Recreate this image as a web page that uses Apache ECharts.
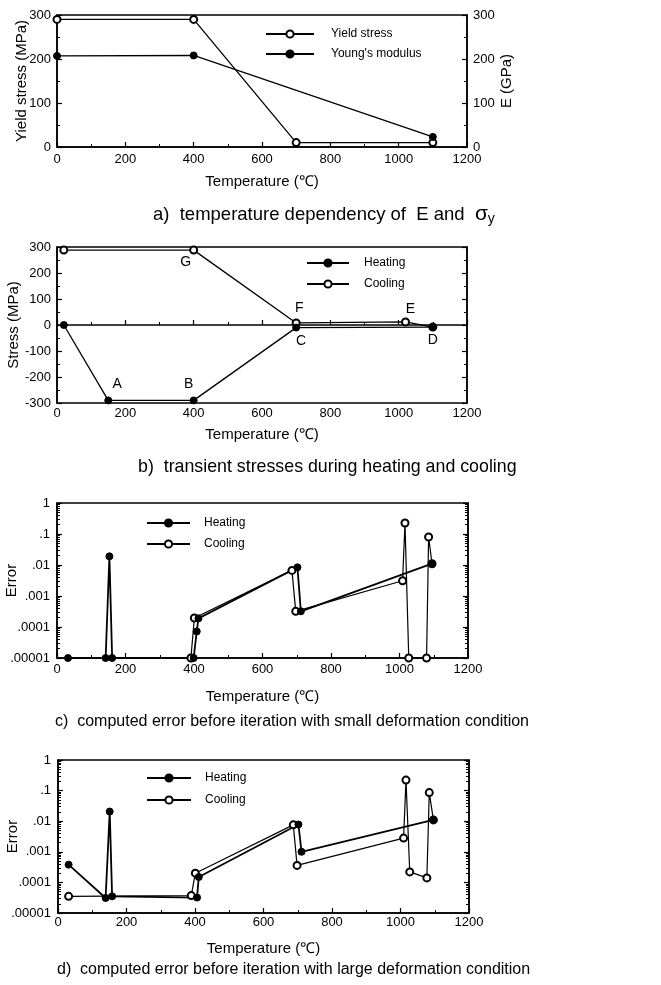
<!DOCTYPE html>
<html lang="en">
  <head>
    <meta charset="UTF-8" />
    <title>Temperature dependency and error</title>
    <style>
      body {
        margin: 0;
        background-color: #fff;
      }
      #chart {
        width: 661px;
        height: 985px;
      }
    </style>
  </head>
  <body>
    <div id="chart"></div>
    <script src="https://cdn.jsdelivr.net/npm/echarts@6/dist/echarts.min.js"></script>
    <script>
      // a) material data
      const yieldTemp = [0, 400, 700, 1100];
      const yieldStress = [290, 290, 10, 10];
      const youngTemp = [0, 400, 1100];
      const youngModulus = [207, 208, 23];

      // b) transient stresses
      const bHeatTemp = [20, 150, 400, 700, 1100];
      const bHeatStress = [0, -290, -290, -10, -8];
      const bHeatTags = ["", "A", "B", "C", "D"];
      const bCoolTemp = [1100, 1020, 700, 400, 20];
      const bCoolStress = [-8, 12, 8, 288, 288];
      const bCoolTags = ["", "E", "F", "G", ""];

      // c) error, small deformation
      const cHeatTemp = [32, 142, 153, 161, 399, 408, 413, 702, 712, 1095];
      const cHeatErr = [1e-5, 1e-5, 0.019, 1e-5, 1e-5, 7.2e-5, 1.9e-4, 0.0084, 3.2e-4, 0.011];
      const cCoolTemp = [1095, 1085, 1079, 1027, 1016, 1009, 697, 686, 401, 391];
      const cCoolErr = [0.011, 0.08, 1e-5, 1e-5, 0.226, 0.0031, 3.2e-4, 0.0067, 1.95e-4, 1e-5];

      // d) error, large deformation
      const dHeatTemp = [31, 139, 151, 158, 406, 411, 702, 711, 1096];
      const dHeatErr = [3.8e-4, 3.1e-5, 0.0207, 3.5e-5, 3.2e-5, 1.5e-4, 0.0078, 0.001, 0.011];
      const dCoolTemp = [1096, 1084, 1077, 1027, 1016, 1009, 698, 687, 401, 389, 31];
      const dCoolErr = [0.011, 0.086, 1.4e-4, 2.2e-4, 0.22, 0.0028, 3.6e-4, 0.0076, 2.0e-4, 3.7e-5, 3.5e-5];

      const font = "Liberation Sans, Arial, sans-serif";
      const black = "#000";

      // label placement for the lettered points of panel b
      const tagPos = {
        A: ["top", [9, 0]],
        B: ["top", [-5, 0]],
        C: ["bottom", [5, -2]],
        D: ["bottom", [0, -3]],
        E: ["top", [5, 4]],
        F: ["top", [3, 2]],
        G: ["bottom", [-8, -4]],
      };

      const zip = (xs, ys) => xs.map((x, i) => [x, ys[i]]);
      const tagged = (xs, ys, tags) =>
        xs.map((x, i) => {
          const item = { value: [x, ys[i]] };
          const t = tags[i];
          if (t) {
            item.label = {
              show: true,
              formatter: t,
              position: tagPos[t][0],
              offset: tagPos[t][1],
              fontSize: 14,
              fontFamily: font,
              color: black,
            };
          }
          return item;
        });

      const logLabel = (v) => {
        const e = -Math.round(Math.log10(v));
        return e <= 0 ? "1" : "." + "0".repeat(e - 1) + "1";
      };

      const grids = [
        { left: 57, top: 15, width: 410, height: 132 },
        { left: 57, top: 247, width: 410, height: 156 },
        { left: 57, top: 503, width: 411, height: 155 },
        { left: 58, top: 760, width: 411, height: 153 },
      ].map((g) => ({
        ...g,
        show: true,
        borderColor: black,
        borderWidth: 1.5,
        containLabel: false,
        outerBoundsMode: "none",
      }));

      const tickStyle = { show: true, inside: true, length: 5, lineStyle: { color: black, width: 1.2 } };
      const minorStyle = { show: true, splitNumber: 2, length: 3, lineStyle: { color: black, width: 1 } };

      const xAxisFor = (gridIndex, margin, nameGap) => ({
        type: "value",
        gridIndex,
        min: 0,
        max: 1200,
        interval: 200,
        name: "Temperature (℃)",
        nameLocation: "middle",
        nameGap,
        nameMoveOverlap: false,
        nameTextStyle: { fontSize: 15, fontFamily: font, color: black },
        axisLine: { show: true, lineStyle: { color: black, width: 1.5 } },
        axisTick: tickStyle,
        minorTick: minorStyle,
        splitLine: { show: false },
        axisLabel: { margin, fontSize: 13, fontFamily: font, color: black, formatter: (v) => String(v) },
      });

      const yValueAxis = (gridIndex, min, max, name, nameGap, position, showLabel) => ({
        type: "value",
        gridIndex,
        min,
        max,
        interval: 100,
        position,
        name,
        nameLocation: "middle",
        nameGap,
        nameRotate: 90,
        nameMoveOverlap: false,
        nameTextStyle: { fontSize: 15, fontFamily: font, color: black },
        axisLine: { show: true, lineStyle: { color: black, width: 1.5 } },
        axisTick: tickStyle,
        minorTick: minorStyle,
        splitLine: { show: false },
        axisLabel: { show: showLabel, margin: 6, fontSize: 13, fontFamily: font, color: black },
      });

      const yLogAxis = (gridIndex, name, nameGap, position, showLabel) => ({
        type: "log",
        logBase: 10,
        gridIndex,
        min: 1e-5,
        max: 1,
        splitNumber: 5,
        position,
        name,
        nameLocation: "middle",
        nameGap,
        nameRotate: 90,
        nameMoveOverlap: false,
        nameTextStyle: { fontSize: 15, fontFamily: font, color: black },
        axisLine: { show: true, lineStyle: { color: black, width: 1.5 } },
        axisTick: tickStyle,
        minorTick: { show: true, splitNumber: 9, length: 3, lineStyle: { color: black, width: 1 } },
        splitLine: { show: false },
        axisLabel: { show: showLabel, margin: 7, fontSize: 13, fontFamily: font, color: black, formatter: logLabel },
      });

      const lineSeries = (name, data, xAxisIndex, yAxisIndex, filled, width) => ({
        type: "line",
        name,
        data,
        xAxisIndex,
        yAxisIndex,
        clip: false,
        symbol: filled ? "circle" : "emptyCircle",
        symbolSize: 7,
        showAllSymbol: true,
        itemStyle: { color: black, borderColor: black, borderWidth: 1 },
        lineStyle: { color: black, width },
        emphasis: { disabled: true },
        animation: false,
      });

      const legendAt = (names, left, top, width, pad, gap) => ({
        data: names,
        orient: "vertical",
        left,
        top,
        padding: 0,
        itemWidth: width,
        itemHeight: 9,
        itemGap: gap,
        selectedMode: false,
        textStyle: { fontSize: 12, fontFamily: font, color: black, padding: [0, 0, 0, pad] },
      });

      const captionStyle = (size) => ({
        fontSize: size,
        fontWeight: "normal",
        fontFamily: font,
        color: black,
        rich: {
          s: { fontSize: 21, fontFamily: font, color: black },
          sub: { fontSize: 14, fontFamily: font, color: black, padding: [9, 0, 0, 0] },
        },
      });

      const option = {
        backgroundColor: "#fff",
        animation: false,
        title: [
          { text: "a)  temperature dependency of  E and  {s|σ}{sub|y}", left: 153, top: 203, padding: 0, textStyle: captionStyle(18.5) },
          { text: "b)  transient stresses during heating and cooling", left: 138, top: 458, padding: 0, textStyle: captionStyle(17.8) },
          { text: "c)  computed error before iteration with small deformation condition", left: 55, top: 714, padding: 0, textStyle: captionStyle(16) },
          { text: "d)  computed error before iteration with large deformation condition", left: 57, top: 962, padding: 0, textStyle: captionStyle(16) },
        ],
        legend: [
          legendAt(["Yield stress", "Young's modulus"], 265, 28, 48, 12, 8),
          legendAt(["Heating", "Cooling"], 306, 257, 42, 10, 9),
          legendAt(["Heating", "Cooling"], 146, 517, 43, 9, 9),
          legendAt(["Heating", "Cooling"], 146, 772, 44, 9, 10),
        ],
        grid: grids,
        xAxis: [xAxisFor(0, 6, 27), xAxisFor(1, 4, 24), xAxisFor(2, 5, 31), xAxisFor(3, 3, 28)],
        yAxis: [
          yValueAxis(0, 0, 300, "Yield stress (MPa)", 28, "left", true),
          yValueAxis(0, 0, 300, "E (GPa)", 32, "right", true),
          yValueAxis(1, -300, 300, "Stress (MPa)", 36, "left", true),
          yValueAxis(1, -300, 300, "", 0, "right", false),
          yLogAxis(2, "Error", 38, "left", true),
          yLogAxis(2, "", 0, "right", false),
          yLogAxis(3, "Error", 38, "left", true),
          yLogAxis(3, "", 0, "right", false),
        ],
        series: [
          lineSeries("Yield stress", zip(yieldTemp, yieldStress), 0, 0, false, 1.3),
          lineSeries("Young's modulus", zip(youngTemp, youngModulus), 0, 1, true, 1.3),
          lineSeries("Cooling", tagged(bCoolTemp, bCoolStress, bCoolTags), 1, 2, false, 1.3),
          lineSeries("Heating", tagged(bHeatTemp, bHeatStress, bHeatTags), 1, 2, true, 1.3),
          lineSeries("Cooling", zip(cCoolTemp, cCoolErr), 2, 4, false, 1.2),
          lineSeries("Heating", zip(cHeatTemp, cHeatErr), 2, 4, true, 1.8),
          lineSeries("Cooling", zip(dCoolTemp, dCoolErr), 3, 6, false, 1.2),
          lineSeries("Heating", zip(dHeatTemp, dHeatErr), 3, 6, true, 1.8),
        ],
      };

      const chart = echarts.init(document.getElementById("chart"), null, { renderer: "canvas" });
      chart.setOption(option);
    </script>
  </body>
</html>
